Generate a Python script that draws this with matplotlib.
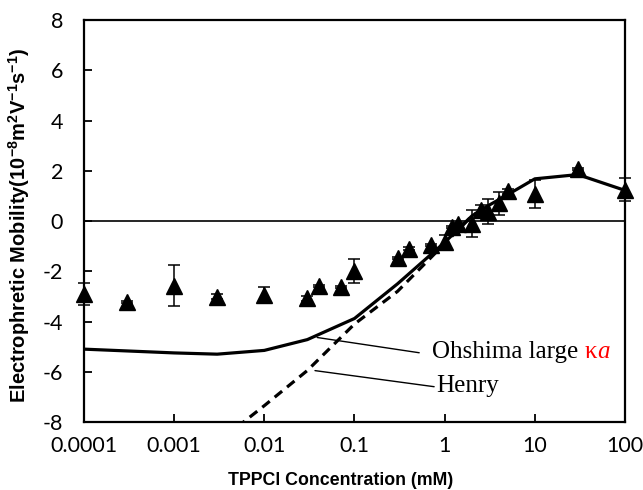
import numpy as np
import matplotlib
matplotlib.use("Agg")
import matplotlib.pyplot as plt

plt.rcParams["mathtext.default"] = "regular"
plt.rcParams["axes.unicode_minus"] = False

# --- Data ---
conc = [0.0001, 0.0003, 0.001, 0.003, 0.01, 0.03, 0.04, 0.07, 0.1, 0.3, 0.4, 0.7,
        1.0, 1.2, 1.4, 2.0, 2.5, 3.0, 4.0, 5.0, 10, 30, 100]
mobility = [-2.9, -3.22, -2.58, -3.02, -2.95, -3.07, -2.58, -2.63, -1.98, -1.47, -1.1, -0.96,
            -0.85, -0.23, -0.12, -0.1, 0.45, 0.37, 0.7, 1.18, 1.08, 2.08, 1.25]
mob_err = [0.45, 0.05, 0.82, 0.1, 0.32, 0.1, 0.05, 0.05, 0.48, 0.05, 0.05, 0.05,
           0.3, 0.05, 0.05, 0.55, 0.2, 0.5, 0.45, 0.1, 0.55, 0.05, 0.45]

ohshima_x = [0.0001, 0.001, 0.003, 0.01, 0.03, 0.1, 0.3, 1.0, 2.0, 3.0, 5.0, 10, 30, 100]
ohshima_y = [-5.1, -5.25, -5.3, -5.15, -4.72, -3.88, -2.5, -0.85, 0.2, 0.6, 1.05, 1.68, 1.85, 1.22]

henry_x = [0.005, 0.01, 0.03, 0.1, 0.3, 1.0, 2.0, 3.0]
henry_y = [-8.2, -7.35, -5.95, -4.1, -2.8, -0.9, 0.2, 0.6]

xticks = [0.0001, 0.001, 0.01, 0.1, 1, 10, 100]
xticklabels = ["0.0001", "0.001", "0.01", "0.1", "1", "10", "100"]
yticks = [-8, -6, -4, -2, 0, 2, 4, 6, 8]

fig = plt.figure(figsize=(6.43, 4.9), dpi=100)
ax = fig.add_axes([0.1306, 0.1388, 0.8414, 0.8202])

ax.axhline(0, color="black", lw=1.2, zorder=1)
ax.plot(ohshima_x, ohshima_y, color="black", lw=2.3, zorder=2)
ax.plot(henry_x, henry_y, color="black", lw=2.3, ls=(0, (3, 2)), zorder=2)
ax.errorbar(conc, mobility, yerr=mob_err, fmt="^", color="black", ms=12,
            elinewidth=1.1, capsize=4.5, capthick=1.1, zorder=3, clip_on=False)

ax.set_xscale("log")
ax.set_xlim(0.0001, 100)
ax.set_ylim(-8, 8)
ax.set_xticks(xticks)
ax.set_xticklabels(xticklabels)
ax.set_yticks(yticks)
ax.minorticks_off()
for lab in ax.get_xticklabels() + ax.get_yticklabels():
    lab.set_fontfamily("Lato")
    lab.set_fontsize(15.5)
ax.tick_params(axis="x", direction="in", length=6, width=1.3, pad=10)
ax.tick_params(axis="y", direction="in", length=6, width=1.3, pad=15)
for sp in ax.spines.values():
    sp.set_linewidth(1.6)

ax.set_xlabel("TPPCl Concentration (mM)", fontsize=12.8, fontweight="bold",
              fontfamily="Liberation Sans")
ax.xaxis.set_label_coords(0.475, -0.124)
ax.set_ylabel("Electrophretic Mobility(10$^{-8}$m$^{2}$V$^{-1}$s$^{-1}$)", fontsize=14.5,
              fontweight="bold", fontfamily="Liberation Sans")
ax.yaxis.set_label_coords(-0.096, 0.49)

# leader lines and labels
ax.annotate("", xy=(0.036, -4.62), xytext=(0.56, -5.26),
            arrowprops=dict(arrowstyle="-", color="black", lw=1.0))
ax.annotate("", xy=(0.034, -5.94), xytext=(0.82, -6.61),
            arrowprops=dict(arrowstyle="-", color="black", lw=1.0))
t1 = ax.text(0.72, -5.22, "Ohshima large ", fontsize=18, fontfamily="Liberation Serif",
             va="center", ha="left")
ax.text(0.8, -6.55, "Henry", fontsize=18, fontfamily="Liberation Serif",
        va="center", ha="left")

fig.canvas.draw()
t2 = ax.annotate("κ", xy=(1, 0.5), xycoords=t1, fontsize=18, fontfamily="Liberation Serif",
                 color="red", va="center", ha="left")
fig.canvas.draw()
t3 = ax.annotate("a", xy=(1, 0.5), xycoords=t2, fontsize=18, fontfamily="Liberation Serif",
                 fontstyle="italic", color="red", va="center", ha="left")

fig.savefig("out.png", dpi=100)
